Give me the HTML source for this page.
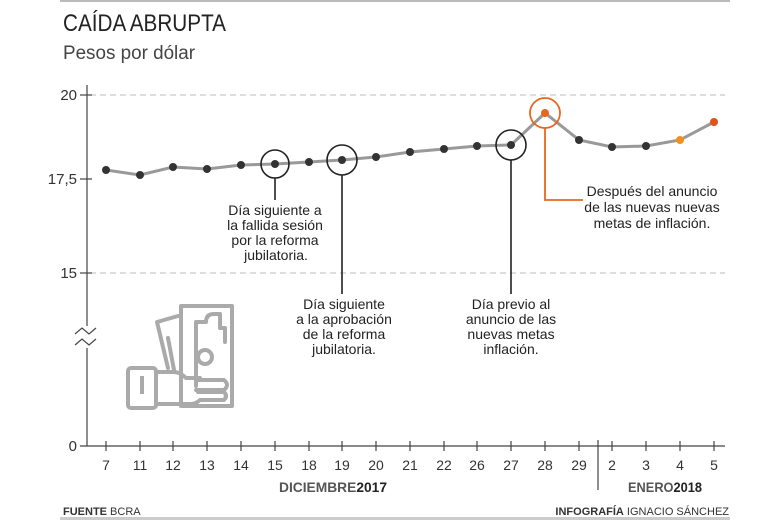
<!DOCTYPE html>
<html><head><meta charset="utf-8"><style>
html,body{margin:0;padding:0;background:#fff;}
svg text{font-family:"Liberation Sans Narrow","Liberation Sans",sans-serif;}
</style></head><body>
<svg width="783" height="522" viewBox="0 0 783 522" xmlns="http://www.w3.org/2000/svg">
<rect x="60" y="0" width="670" height="2" fill="#bbb"/>
<rect x="60" y="517" width="670" height="3" fill="#ccc"/>
<text x="63" y="31" font-size="24" fill="#222" textLength="163" lengthAdjust="spacingAndGlyphs">CAÍDA ABRUPTA</text>
<text x="63" y="59" font-size="19" fill="#444" textLength="132" lengthAdjust="spacingAndGlyphs">Pesos por dólar</text>
<g stroke="#bbb" stroke-width="1" stroke-dasharray="6,4">
<line x1="90" y1="95" x2="725" y2="95"/>
<line x1="90" y1="273" x2="725" y2="273"/>
</g>
<g stroke="#444" stroke-width="1.2">
<line x1="87" y1="85" x2="87" y2="446"/>
<line x1="80" y1="95" x2="92" y2="95"/>
<line x1="80" y1="179" x2="92" y2="179"/>
<line x1="80" y1="273" x2="92" y2="273"/>
<line x1="80" y1="446" x2="725" y2="446"/>
<line x1="598" y1="440" x2="598" y2="490"/>
</g>
<rect x="80" y="326" width="15" height="22" fill="#fff"/>
<polyline points="75,334 82,328 89,334 96,328" fill="none" stroke="#444" stroke-width="1.2"/>
<polyline points="75,345 82,339 89,345 96,339" fill="none" stroke="#444" stroke-width="1.2"/>
<g font-size="15" fill="#333" text-anchor="end">
<text x="77" y="100">20</text><text x="77" y="184">17,5</text><text x="77" y="278">15</text><text x="77" y="451">0</text>
</g>
<g stroke="#444" stroke-width="1.2">
<line x1="106" y1="441" x2="106" y2="451"/><line x1="140" y1="441" x2="140" y2="451"/><line x1="173" y1="441" x2="173" y2="451"/><line x1="207" y1="441" x2="207" y2="451"/><line x1="241" y1="441" x2="241" y2="451"/><line x1="275" y1="441" x2="275" y2="451"/><line x1="309" y1="441" x2="309" y2="451"/><line x1="342" y1="441" x2="342" y2="451"/><line x1="376" y1="441" x2="376" y2="451"/><line x1="410" y1="441" x2="410" y2="451"/><line x1="444" y1="441" x2="444" y2="451"/><line x1="477" y1="441" x2="477" y2="451"/><line x1="511" y1="441" x2="511" y2="451"/><line x1="545" y1="441" x2="545" y2="451"/><line x1="579" y1="441" x2="579" y2="451"/><line x1="612" y1="441" x2="612" y2="451"/><line x1="646" y1="441" x2="646" y2="451"/><line x1="680" y1="441" x2="680" y2="451"/><line x1="714" y1="441" x2="714" y2="451"/>
</g>
<g font-size="14" fill="#333" text-anchor="middle">
<text x="106" y="470">7</text><text x="140" y="470">11</text><text x="173" y="470">12</text><text x="207" y="470">13</text><text x="241" y="470">14</text><text x="275" y="470">15</text><text x="309" y="470">18</text><text x="342" y="470">19</text><text x="376" y="470">20</text><text x="410" y="470">21</text><text x="444" y="470">22</text><text x="477" y="470">26</text><text x="511" y="470">27</text><text x="545" y="470">28</text><text x="579" y="470">29</text><text x="612" y="470">2</text><text x="646" y="470">3</text><text x="680" y="470">4</text><text x="714" y="470">5</text>
<text x="333" y="492" font-size="14" font-weight="bold" fill="#555" textLength="108" lengthAdjust="spacingAndGlyphs"><tspan>DICIEMBRE</tspan><tspan fill="#222">2017</tspan></text>
<text x="665" y="492" font-size="14" font-weight="bold" fill="#555" textLength="74" lengthAdjust="spacingAndGlyphs"><tspan>ENERO</tspan><tspan fill="#222">2018</tspan></text>
</g>
<text x="63" y="515" font-size="11" fill="#333"><tspan font-weight="bold">FUENTE</tspan> BCRA</text>
<text x="729" y="515" font-size="11" fill="#333" text-anchor="end"><tspan font-weight="bold">INFOGRAFÍA</tspan> IGNACIO SÁNCHEZ</text>
<g fill="none" stroke="#aaa" stroke-width="4" stroke-linejoin="round" stroke-linecap="round">
<path d="M168 368 L157 322 L178 316"/>
<path d="M174 370 L168 338"/>
<rect x="181" y="306" width="51" height="100"/>
<path d="M196 386 L196 322 L206 322 Q206 314 214 314 L220 314 L220 328 L225 328 L225 342"/>
<circle cx="205" cy="357" r="7"/>
<rect x="128" y="368" width="28" height="40" rx="3"/>
<path d="M156 404 L190 404 Q196 404 200 400 L222 400"/>
<path d="M156 372 L174 372 Q180 372 186 378 L200 378"/>
<path d="M196 380 L224 380 Q230 385 224 390 L196 390"/>
<path d="M198 392 L224 392 Q228 396 224 400"/>
</g>
<line x1="142" y1="376" x2="142" y2="394" stroke="#aaa" stroke-width="4"/>
<polyline points="106,170 140,175 173,167 207,169 241,165 275,164 309,162 342,160 376,157 410,152 444,149 477,146 511,145 545,113 579,140 612,147 646,146 680,140 714,122" fill="none" stroke="#999" stroke-width="3"/>
<g fill="#333">
<circle cx="106" cy="170" r="4"/><circle cx="140" cy="175" r="4"/><circle cx="173" cy="167" r="4"/><circle cx="207" cy="169" r="4"/><circle cx="241" cy="165" r="4"/><circle cx="275" cy="164" r="4"/><circle cx="309" cy="162" r="4"/><circle cx="342" cy="160" r="4"/><circle cx="376" cy="157" r="4"/><circle cx="410" cy="152" r="4"/><circle cx="444" cy="149" r="4"/><circle cx="477" cy="146" r="4"/><circle cx="511" cy="145" r="4"/><circle cx="579" cy="140" r="4"/><circle cx="612" cy="147" r="4"/><circle cx="646" cy="146" r="4"/>
</g>
<circle cx="545" cy="113" r="4" fill="#e8671c"/>
<circle cx="680" cy="140" r="4" fill="#f0901e"/>
<circle cx="714" cy="122" r="4" fill="#e4501a"/>
<g fill="none" stroke="#222" stroke-width="1.6">
<circle cx="275" cy="164" r="14"/><line x1="275" y1="178" x2="275" y2="200"/>
<circle cx="342" cy="160" r="15"/><line x1="342" y1="175" x2="342" y2="294"/>
<circle cx="511" cy="145" r="15"/><line x1="511" y1="160" x2="511" y2="294"/>
</g>
<g fill="none" stroke="#e8671c" stroke-width="1.8">
<circle cx="545" cy="113" r="15"/><polyline points="545,128 545,200 583,200"/>
</g>
<g font-size="14" fill="#222" text-anchor="middle">
<text x="275" y="215">Día siguiente a</text><text x="275" y="230">la fallida sesión</text><text x="275" y="245">por la reforma</text><text x="276" y="260">jubilatoria.</text>
<text x="344" y="309">Día siguiente</text><text x="344" y="324">a la aprobación</text><text x="344" y="339">de la reforma</text><text x="344" y="354">jubilatoria.</text>
<text x="511" y="309">Día previo al</text><text x="511" y="324">anuncio de las</text><text x="511" y="339">nuevas metas</text><text x="511" y="354">inflación.</text>
<text x="652" y="196">Después del anuncio</text><text x="652" y="212">de las nuevas nuevas</text><text x="652" y="228">metas de inflación.</text>
</g>
</svg>
</body></html>
